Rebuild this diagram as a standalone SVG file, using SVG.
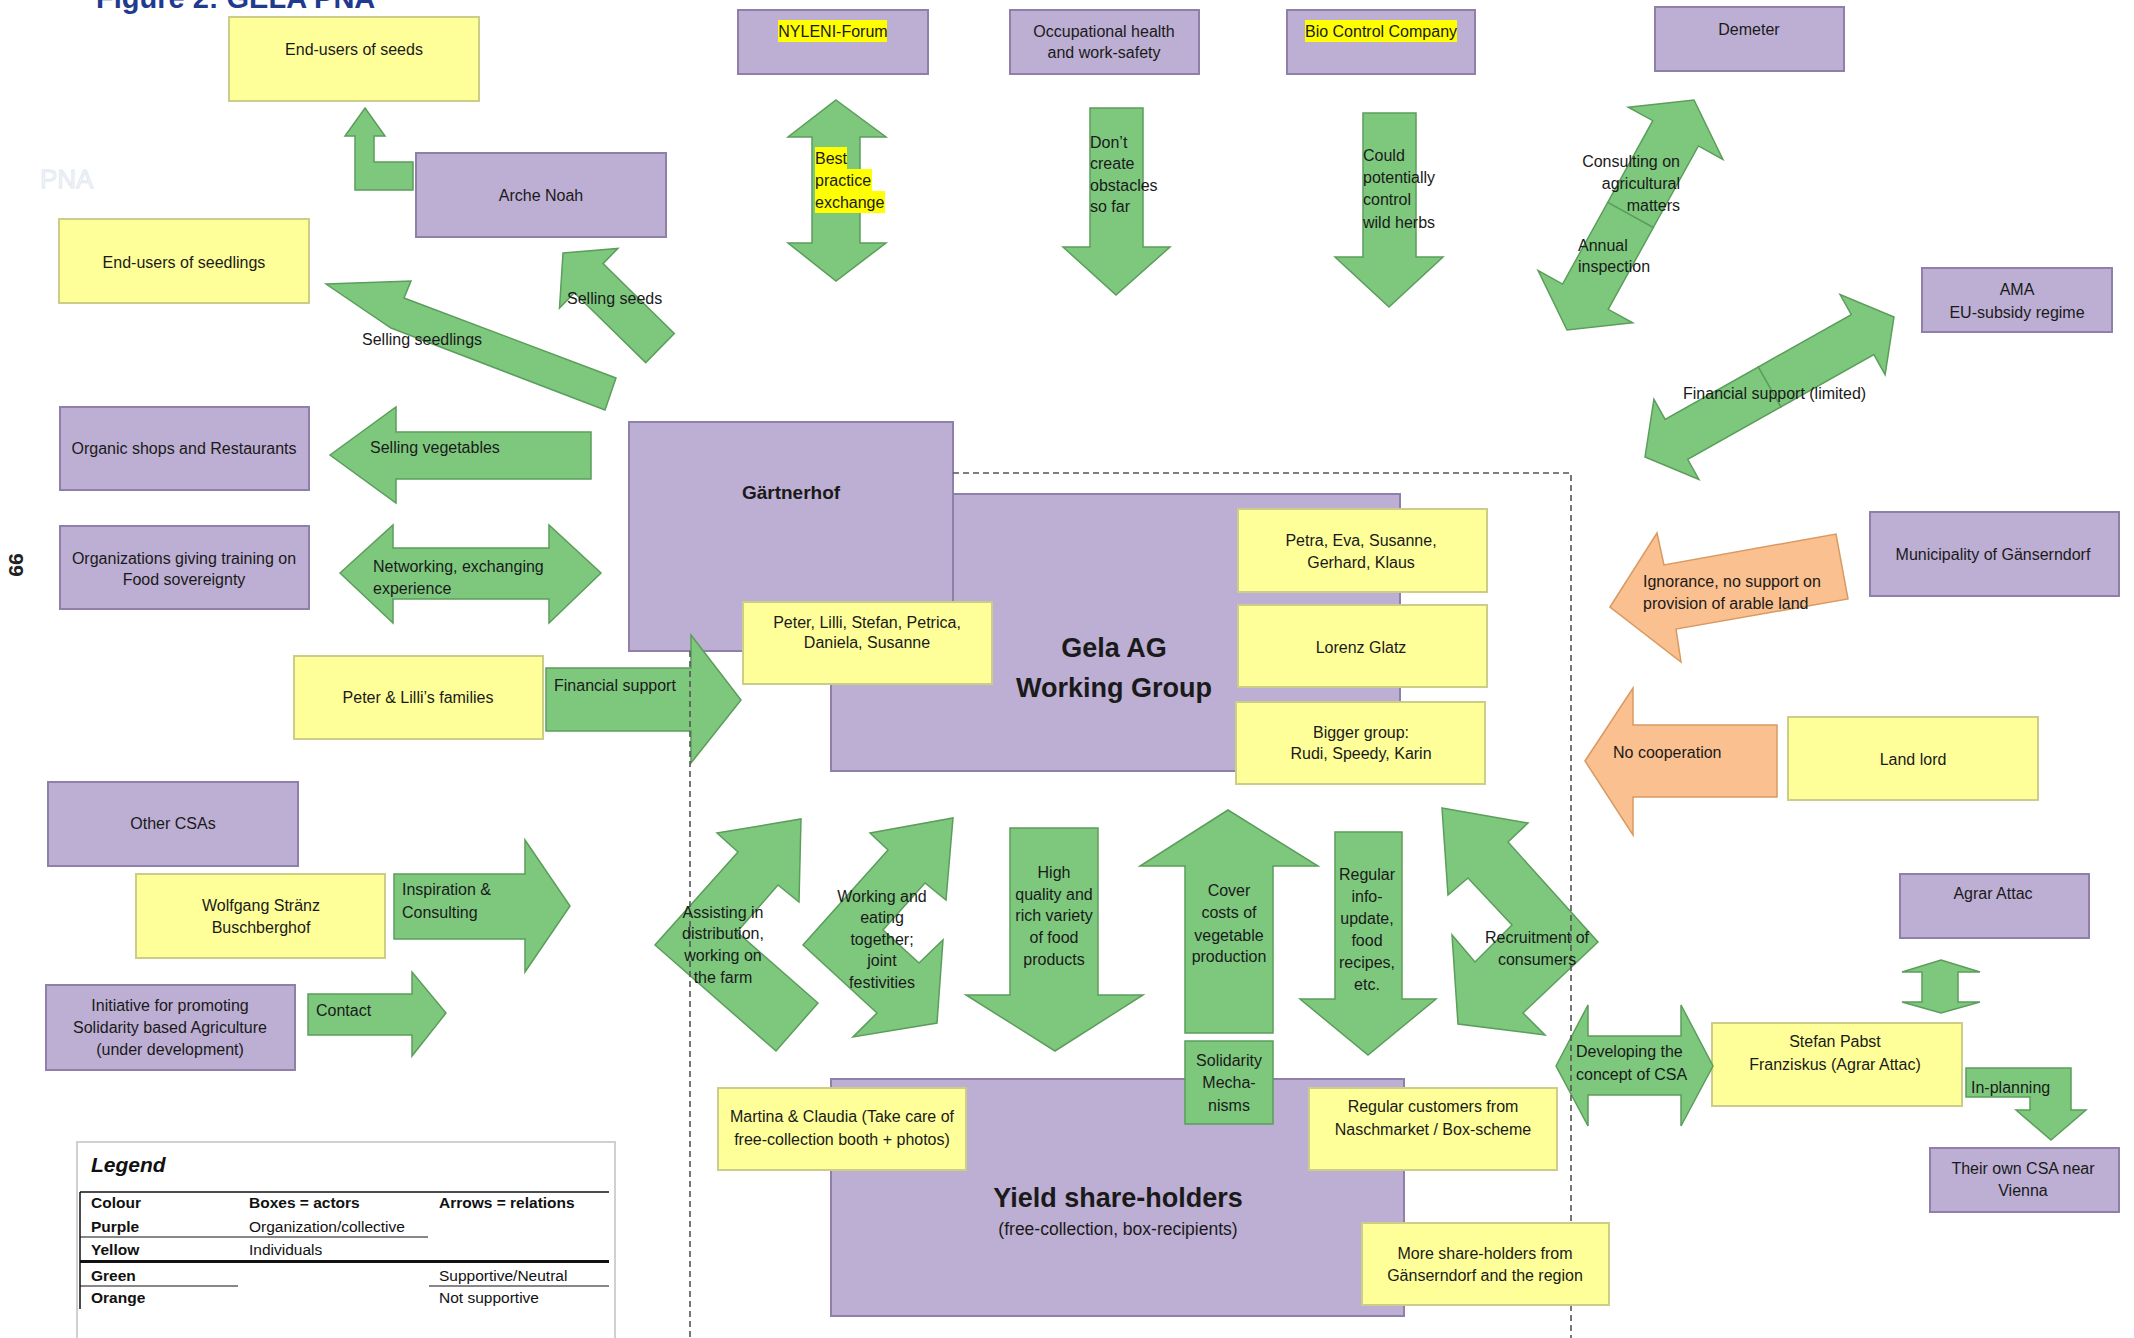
<svg xmlns="http://www.w3.org/2000/svg" width="2134" height="1338" viewBox="0 0 2134 1338">
<defs>
<style>
.p{fill:#bdaed3;stroke:#8e80a8;stroke-width:2}
.y{fill:#ffff99;stroke:#cdcd8a;stroke-width:2}
.g{fill:#7ec87e;stroke:#5b9d5b;stroke-width:1.5;stroke-linejoin:miter}
.o{fill:#fac08f;stroke:#d99a62;stroke-width:1.5}
.t{font-family:"Liberation Sans",Arial,sans-serif;font-size:16px;fill:#1a1a1a}
.c{text-anchor:middle}
.e{text-anchor:end}
.b{font-weight:bold}
.hl{fill:#ffff00}
.dash{stroke:#555;stroke-width:1.6;stroke-dasharray:6 4;fill:none}
.lg{font-family:"Liberation Sans",Arial,sans-serif;font-size:15.5px;fill:#111}
.ln{stroke:#111;fill:none}
</style>
</defs>
<rect width="2134" height="1338" fill="#ffffff"/>

<g id="page-decor">
<text x="96" y="8" font-family="Liberation Sans,Arial,sans-serif" font-size="29" font-weight="bold" fill="#203a8f">Figure 2: GELA PNA</text>
<text x="40" y="188" font-family="Liberation Sans,Arial,sans-serif" font-size="26" fill="#f1f5f9" stroke="#dfe7ef" stroke-width="0.8">PNA</text>
<text transform="translate(9,565) rotate(90)" text-anchor="middle" font-family="Liberation Sans,Arial,sans-serif" font-size="21" font-weight="bold" fill="#222">99</text>
</g>

<!-- Nodes -->
<g id="node-gela-ag"><rect class="p" x="831" y="494" width="569" height="277"/><text class="t c b" x="1114" y="657" style="font-size:27px">Gela AG</text><text class="t c b" x="1114" y="697" style="font-size:27px">Working Group</text></g>
<g id="node-gaertnerhof"><rect class="p" x="629" y="422" width="324" height="229"/><text class="t c b" x="791" y="499" style="font-size:19px">Gärtnerhof</text></g>
<g id="node-peter-lilli-group"><rect class="y" x="743" y="602" width="249" height="82"/><text class="t c" x="867" y="628">Peter, Lilli, Stefan, Petrica,</text><text class="t c" x="867" y="648">Daniela, Susanne</text></g>
<g id="node-petra"><rect class="y" x="1238" y="509" width="249" height="83"/><text class="t c" x="1361" y="546">Petra, Eva, Susanne,</text><text class="t c" x="1361" y="568">Gerhard, Klaus</text></g>
<g id="node-lorenz"><rect class="y" x="1238" y="605" width="249" height="82"/><text class="t c" x="1361" y="653">Lorenz Glatz</text></g>
<g id="node-bigger-group"><rect class="y" x="1236" y="702" width="249" height="82"/><text class="t c" x="1361" y="738">Bigger group:</text><text class="t c" x="1361" y="759">Rudi, Speedy, Karin</text></g>

<g id="node-yield"><rect class="p" x="831" y="1079" width="573" height="237"/><text class="t c b" x="1118" y="1207" style="font-size:27px">Yield share-holders</text><text class="t c" x="1118" y="1235" style="font-size:17.5px">(free-collection, box-recipients)</text></g>
<g id="node-martina"><rect class="y" x="718" y="1088" width="248" height="82"/><text class="t c" x="842" y="1122">Martina &amp; Claudia (Take care of</text><text class="t c" x="842" y="1145">free-collection booth + photos)</text></g>
<g id="node-regular-customers"><rect class="y" x="1309" y="1088" width="248" height="82"/><text class="t c" x="1433" y="1112">Regular customers from</text><text class="t c" x="1433" y="1135">Naschmarket / Box-scheme</text></g>
<g id="node-solidarity"><rect class="g" x="1185" y="1041" width="88" height="83"/><text class="t c" x="1229" y="1066">Solidarity</text><text class="t c" x="1229" y="1088">Mecha-</text><text class="t c" x="1229" y="1111">nisms</text></g>

<g id="node-end-users-seeds"><rect class="y" x="229" y="17" width="250" height="84"/><text class="t c" x="354" y="55">End-users of seeds</text></g>
<g id="node-arche-noah"><rect class="p" x="416" y="153" width="250" height="84"/><text class="t c" x="541" y="201">Arche Noah</text></g>
<g id="node-end-users-seedlings"><rect class="y" x="59" y="219" width="250" height="84"/><text class="t c" x="184" y="268">End-users of seedlings</text></g>
<g id="node-organic-shops"><rect class="p" x="60" y="407" width="249" height="83"/><text class="t c" x="184" y="454">Organic shops and Restaurants</text></g>
<g id="node-organizations-training"><rect class="p" x="60" y="526" width="249" height="83"/><text class="t c" x="184" y="564">Organizations giving training on</text><text class="t c" x="184" y="585">Food sovereignty</text></g>
<g id="node-families"><rect class="y" x="294" y="656" width="249" height="83"/><text class="t c" x="418" y="703">Peter &amp; Lilli’s families</text></g>
<g id="node-other-csas"><rect class="p" x="48" y="782" width="250" height="84"/><text class="t c" x="173" y="829">Other CSAs</text></g>
<g id="node-wolfgang"><rect class="y" x="136" y="874" width="249" height="84"/><text class="t c" x="261" y="911">Wolfgang Stränz</text><text class="t c" x="261" y="933">Buschberghof</text></g>
<g id="node-initiative"><rect class="p" x="46" y="985" width="249" height="85"/><text class="t c" x="170" y="1011">Initiative for promoting</text><text class="t c" x="170" y="1033">Solidarity based Agriculture</text><text class="t c" x="170" y="1055">(under development)</text></g>

<g id="node-nyleni"><rect class="p" x="738" y="10" width="190" height="64"/><rect class="hl" x="778" y="20" width="109" height="22"/><text class="t c" x="833" y="37">NYLENI-Forum</text></g>
<g id="node-occupational"><rect class="p" x="1010" y="10" width="189" height="64"/><text class="t c" x="1104" y="37">Occupational health</text><text class="t c" x="1104" y="58">and work-safety</text></g>
<g id="node-bio-control"><rect class="p" x="1287" y="10" width="188" height="64"/><rect class="hl" x="1305" y="20" width="152" height="22"/><text class="t c" x="1381" y="37">Bio Control Company</text></g>
<g id="node-demeter"><rect class="p" x="1655" y="7" width="189" height="64"/><text class="t c" x="1749" y="35">Demeter</text></g>
<g id="node-ama"><rect class="p" x="1922" y="268" width="190" height="64"/><text class="t c" x="2017" y="295">AMA</text><text class="t c" x="2017" y="318">EU-subsidy regime</text></g>
<g id="node-municipality"><rect class="p" x="1870" y="512" width="249" height="84"/><text class="t c" x="1993" y="560">Municipality of Gänserndorf</text></g>
<g id="node-land-lord"><rect class="y" x="1788" y="717" width="250" height="83"/><text class="t c" x="1913" y="765">Land lord</text></g>
<g id="node-agrar-attac"><rect class="p" x="1900" y="874" width="189" height="64"/><text class="t c" x="1993" y="899">Agrar Attac</text></g>
<g id="node-stefan"><rect class="y" x="1712" y="1023" width="250" height="83"/><text class="t c" x="1835" y="1047">Stefan Pabst</text><text class="t c" x="1835" y="1070">Franziskus (Agrar Attac)</text></g>
<g id="node-own-csa"><rect class="p" x="1930" y="1148" width="189" height="64"/><text class="t c" x="2023" y="1174">Their own CSA near</text><text class="t c" x="2023" y="1196">Vienna</text></g>

<!-- Connectors -->
<g id="connectors">
<polygon class="g" points="365,108 385,136 374,136 374,162 413,162 413,190 355,190 355,136 345,136"/>
<polygon class="g" points="326,284 411,281 404,298 616,378 605,410 391,328"/>
<polygon class="g" points="563,253 617.9,248.4 603,263.6 674.3,333.4 645.7,362.6 574.4,292.8 559.5,308"/>
<polygon class="g" points="330,455 396,407 396,432 591,432 591,479 396,479 396,503"/>
<polygon class="g" points="340,573 393,525 393,548 549,548 549,525 601,573 549,623 549,599 393,599 393,623"/>
<polygon class="g" points="546,668 691,668 691,635 741,700 691,763 691,731 546,731"/>
<polygon class="g" points="394,874 525,874 525,840 570,906 525,972 525,939 394,939"/>
<polygon class="g" points="308,994 412,994 412,972 446,1013 412,1056 412,1035 308,1035"/>
<polygon class="g" points="836,100 886,137 860,137 860,243 886,243 836,281 788,243 812,243 812,137 788,137"/>
<polygon class="g" points="1090,108 1143,108 1143,247 1170,247 1116,295 1063,247 1090,247"/>
<polygon class="g" points="1363,113 1416,113 1416,257 1443,257 1389,307 1335,257 1363,257"/>
<polygon class="g" points="1694,100 1722.9,159.4 1698.4,145.9 1653.3,227.6 1607.7,202.4 1652.8,120.7 1628.3,107.2"/>
<polygon class="g" points="1567,330 1538.1,270.6 1562.6,284.1 1607.7,202.4 1653.3,227.6 1608.2,309.3 1632.7,322.8"/>
<polygon class="g" points="1894,317 1885.1,374.7 1873.9,354.6 1780.8,407 1758.2,367 1851.3,314.6 1840.1,294.5"/>
<polygon class="g" points="1645,457 1653.9,399.3 1665.1,419.4 1758.2,367 1780.8,407 1687.7,459.4 1698.9,479.5"/>
<polygon class="o" points="1610,607 1657,533 1664,565 1836,534 1848,599 1676,629 1681,662"/>
<polygon class="o" points="1585,761 1633,688 1633,725 1777,725 1777,797 1633,797 1633,835"/>
<polygon class="g" points="801,819 799,902 778,885 737,932 818,1003 776,1051 655,945 738,852 717,833"/>
<polygon class="g" points="953,818 946,900 925,883 883,930 919,963 943,940 937,1023 853,1037 877,1013 803,945 888,850 870,833"/>
<polygon class="g" points="1010,828 1098,828 1098,995 1143,995 1055,1051 966,995 1010,995"/>
<polygon class="g" points="1228,810 1318,866 1273,866 1273,1033 1185,1033 1185,866 1140,866"/>
<polygon class="g" points="1335,832 1402,832 1402,999 1436,999 1368,1055 1300,999 1335,999"/>
<polygon class="g" points="1442,808 1528,823 1508,842 1598,942 1523,1013 1545,1035 1458,1024 1452,935 1475,962 1512,925 1468,878 1448,895"/>
<polygon class="g" points="1556,1066 1588,1005 1588,1036 1681,1036 1681,1005 1713,1066 1681,1126 1681,1095 1588,1095 1588,1126"/>
<polygon class="g" points="1941,960 1980,972 1958,972 1958,1002 1980,1002 1941,1013 1902,1002 1922,1002 1922,972 1902,972"/>
<polygon class="g" points="1966,1068 2071,1068 2071,1110 2086,1110 2051,1140 2016,1110 2030,1110 2030,1097 1966,1097"/>
</g>

<g id="boundary">
<path class="dash" d="M953,473 H1571 V1223 M1571,1305 V1338 M690,651 V1338"/>
</g>

<g id="connector-labels">
<text class="t" x="362" y="345">Selling seedlings</text>
<text class="t" x="567" y="304">Selling seeds</text>
<text class="t" x="370" y="453">Selling vegetables</text>
<text class="t" x="373" y="572">Networking, exchanging</text>
<text class="t" x="373" y="594">experience</text>
<text class="t" x="554" y="691">Financial support</text>
<text class="t" x="402" y="895">Inspiration &amp;</text>
<text class="t" x="402" y="918">Consulting</text>
<text class="t" x="316" y="1016">Contact</text>
<rect class="hl" x="815" y="147" width="32" height="22"/>
<rect class="hl" x="815" y="169" width="57" height="22"/>
<rect class="hl" x="815" y="191" width="70" height="22"/>
<text class="t" x="815" y="164">Best</text>
<text class="t" x="815" y="186">practice</text>
<text class="t" x="815" y="208">exchange</text>
<text class="t" x="1090" y="148">Don’t</text>
<text class="t" x="1090" y="169">create</text>
<text class="t" x="1090" y="191">obstacles</text>
<text class="t" x="1090" y="212">so far</text>
<text class="t" x="1363" y="161">Could</text>
<text class="t" x="1363" y="183">potentially</text>
<text class="t" x="1363" y="205">control</text>
<text class="t" x="1363" y="228">wild herbs</text>
<text class="t e" x="1680" y="167">Consulting on</text>
<text class="t e" x="1680" y="189">agricultural</text>
<text class="t e" x="1680" y="211">matters</text>
<text class="t" x="1578" y="251">Annual</text>
<text class="t" x="1578" y="272">inspection</text>
<text class="t" x="1683" y="399">Financial support (limited)</text>
<text class="t" x="1643" y="587">Ignorance, no support on</text>
<text class="t" x="1643" y="609">provision of arable land</text>
<text class="t" x="1613" y="758">No cooperation</text>
<text class="t c" x="723" y="918">Assisting in</text>
<text class="t c" x="723" y="939">distribution,</text>
<text class="t c" x="723" y="961">working on</text>
<text class="t c" x="723" y="983">the farm</text>
<text class="t c" x="882" y="902">Working and</text>
<text class="t c" x="882" y="923">eating</text>
<text class="t c" x="882" y="945">together;</text>
<text class="t c" x="882" y="966">joint</text>
<text class="t c" x="882" y="988">festivities</text>
<text class="t c" x="1054" y="878">High</text>
<text class="t c" x="1054" y="900">quality and</text>
<text class="t c" x="1054" y="921">rich variety</text>
<text class="t c" x="1054" y="943">of food</text>
<text class="t c" x="1054" y="965">products</text>
<text class="t c" x="1229" y="896">Cover</text>
<text class="t c" x="1229" y="918">costs of</text>
<text class="t c" x="1229" y="941">vegetable</text>
<text class="t c" x="1229" y="962">production</text>
<text class="t c" x="1367" y="880">Regular</text>
<text class="t c" x="1367" y="902">info-</text>
<text class="t c" x="1367" y="924">update,</text>
<text class="t c" x="1367" y="946">food</text>
<text class="t c" x="1367" y="968">recipes,</text>
<text class="t c" x="1367" y="990">etc.</text>
<text class="t c" x="1537" y="943">Recruitment of</text>
<text class="t c" x="1537" y="965">consumers</text>
<text class="t" x="1576" y="1057">Developing the</text>
<text class="t" x="1576" y="1080">concept of CSA</text>
<text class="t" x="1971" y="1093">In-planning</text>
</g>

<g id="node-more-shareholders"><rect class="y" x="1362" y="1223" width="247" height="82"/><text class="t c" x="1485" y="1259">More share-holders from</text><text class="t c" x="1485" y="1281">Gänserndorf and the region</text></g>

<g id="legend">
<rect x="77" y="1142" width="538" height="210" fill="#fff" stroke="#d0d0d0" stroke-width="2"/>
<text class="lg b" x="91" y="1172" style="font-size:21px;font-style:italic">Legend</text>
<path class="ln" stroke-width="1.5" d="M80,1192 H609 M80,1192 V1309"/>
<path class="ln" stroke-width="1.2" d="M80,1237 H428 M80,1286 H238 M429,1286 H609"/>
<path class="ln" stroke-width="3" d="M80,1261.5 H609"/>
<text class="lg b" x="91" y="1208">Colour</text>
<text class="lg b" x="249" y="1208">Boxes = actors</text>
<text class="lg b" x="439" y="1208">Arrows = relations</text>
<text class="lg b" x="91" y="1232">Purple</text>
<text class="lg" x="249" y="1232">Organization/collective</text>
<text class="lg b" x="91" y="1255">Yellow</text>
<text class="lg" x="249" y="1255">Individuals</text>
<text class="lg b" x="91" y="1281">Green</text>
<text class="lg" x="439" y="1281">Supportive/Neutral</text>
<text class="lg b" x="91" y="1303">Orange</text>
<text class="lg" x="439" y="1303">Not supportive</text>
</g>
</svg>
